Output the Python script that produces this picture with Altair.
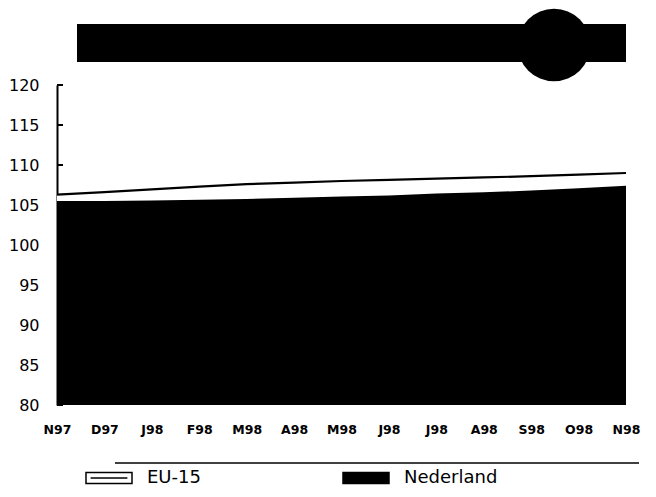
import math
import altair as alt
import pandas as pd

# ---- data ----
months = ["N97", "D97", "J98", "F98", "M98", "A98", "M98", "J98", "J98", "A98", "S98", "O98", "N98"]
series = ["EU-15", "Nederland"]
eu15 = [106.3, 106.6, 106.95, 107.3, 107.6, 107.8, 108.0, 108.15, 108.3, 108.45, 108.6, 108.8, 109.0]
nederland = [105.5, 105.5, 105.55, 105.65, 105.75, 105.9, 106.05, 106.2, 106.45, 106.6, 106.8, 107.1, 107.4]
y_ticks = [80, 85, 90, 95, 100, 105, 110, 115, 120]
series_fill = ["white", "black"]

idx = list(range(len(months)))
df = pd.DataFrame({
    "i": idx * 2,
    "series": [series[0]] * len(idx) + [series[1]] * len(idx),
    "value": eu15 + nederland,
})
ticks_df = pd.DataFrame({"value": y_ticks})
one = pd.DataFrame({"a": [0]})

W, H = 569, 320
label_expr = "[" + ",".join(f"'{m}'" for m in months) + "][datum.value]"

x_enc = alt.X(
    "i:Q",
    scale=alt.Scale(domain=[0, len(months) - 1], nice=False, zero=False),
    axis=alt.Axis(
        values=idx, labelExpr=label_expr, title=None, domain=False, ticks=False, tickSize=0,
        grid=False, labelFont="DejaVu Sans", labelFontWeight="bold", labelFontSize=12.5,
        labelColor="black", labelPadding=18, labelFlush=False, labelOverlap=False, labelBound=False,
    ),
)
y_scale = alt.Scale(domain=[80, 120], nice=False, zero=False)
y_axis = alt.Axis(
    values=y_ticks, title=None, grid=False, ticks=False, tickSize=0,
    domainColor="black", domainWidth=2, labelFont="DejaVu Sans", labelFontSize=16,
    labelColor="black", labelPadding=18, labelFlush=False,
)
y_enc = alt.Y("value:Q", stack=None, scale=y_scale, axis=y_axis)
fill_enc = alt.Fill(
    "series:N",
    scale=alt.Scale(domain=series, range=series_fill),
    legend=alt.Legend(
        title=None, orient="none", legendX=28, legendY=369, direction="horizontal",
        symbolType="M-1,-0.24H1V0.24H-1Z M-0.8,0H0.8", symbolSize=2116,
        symbolStrokeColor="black", symbolStrokeWidth=1.5, symbolOpacity=1,
        labelFont="DejaVu Sans", labelFontSize=18, labelColor="black", labelOffset=14,
        columnPadding=139, padding=0,
    ),
)

eu_area = alt.Chart(df).transform_filter(alt.datum.series == series[0]).mark_area(opacity=1).encode(
    x=x_enc, y=y_enc, fill=fill_enc)
nl_area = alt.Chart(df).transform_filter(alt.datum.series == series[1]).mark_area(opacity=1).encode(
    x=x_enc, y=y_enc, fill=fill_enc)
eu_line = alt.Chart(df).transform_filter(alt.datum.series == series[0]).mark_line(
    color="black", strokeWidth=2.2).encode(x=x_enc, y=y_enc)

inner_ticks = alt.Chart(ticks_df).mark_rule(color="black", strokeWidth=2).encode(
    y=y_enc, x=alt.value(0), x2=alt.value(6))

banner = alt.Chart(one).mark_rect(color="black").encode(
    x=alt.value(20), x2=alt.value(569), y=alt.value(-61), y2=alt.value(-23))
disc = alt.Chart(one).mark_circle(color="black", opacity=1, size=math.pi * 41 * 41).encode(
    x=alt.value(497), y=alt.value(-40))
legend_rule = alt.Chart(one).mark_rule(color="black", strokeWidth=1.5).encode(
    x=alt.value(58), x2=alt.value(582), y=alt.value(378))

chart = alt.layer(eu_area, nl_area, eu_line, inner_ticks, banner, disc, legend_rule).properties(
    width=W, height=H,
    autosize=alt.AutoSizeParams(type="none"),
    padding={"left": 49, "top": 77, "right": 22, "bottom": 84},
).configure_view(stroke=None)

chart.save("out.html", embed_options={"renderer": "svg", "actions": False})
